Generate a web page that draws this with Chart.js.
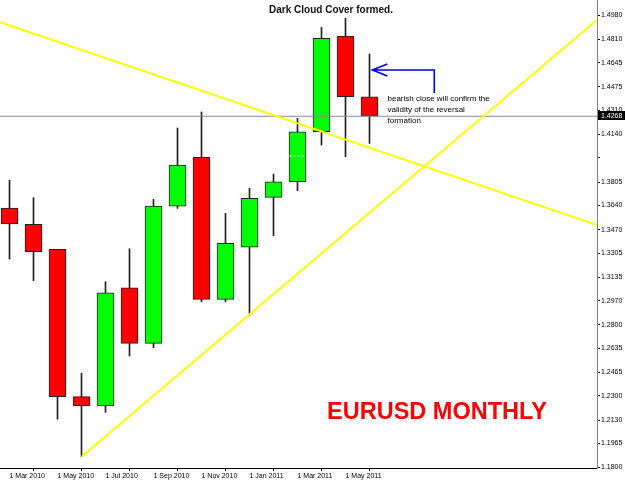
<!DOCTYPE html>
<html>
<head>
<meta charset="utf-8">
<script src="https://cdn.jsdelivr.net/npm/chart.js@4.4.0/dist/chart.umd.min.js"></script>
<style>
    html, body { margin: 0; padding: 0; background: #ffffff; }
    #wrap { width: 625px; height: 483px; }
</style>
</head>
<body>
<div id="wrap"><canvas id="eurusdChart" width="625" height="483"></canvas></div>
<script>
// EURUSD monthly candles, Mar 2010 - Jun 2011
const months = ['Mar 2010', 'Apr 2010', 'May 2010', 'Jun 2010', 'Jul 2010', 'Aug 2010', 'Sep 2010', 'Oct 2010',
                'Nov 2010', 'Dec 2010', 'Jan 2011', 'Feb 2011', 'Mar 2011', 'Apr 2011', 'May 2011', 'Jun 2011'];
const openPrices  = [1.3622, 1.3507, 1.3332, 1.2295, 1.2229, 1.3061, 1.2670, 1.3636, 1.3981, 1.2980, 1.3346, 1.3697, 1.3807, 1.4159, 1.4832, 1.4405];
const highPrices  = [1.3819, 1.3695, 1.3332, 1.2461, 1.3104, 1.3336, 1.3683, 1.4185, 1.4298, 1.3585, 1.3761, 1.3861, 1.4253, 1.4893, 1.4957, 1.4706];
const lowPrices   = [1.3263, 1.3111, 1.2136, 1.1872, 1.2185, 1.2581, 1.2639, 1.3620, 1.2963, 1.2963, 1.2869, 1.3427, 1.3744, 1.4065, 1.3983, 1.4077];
const closePrices = [1.3510, 1.3315, 1.2295, 1.2229, 1.3026, 1.2670, 1.3636, 1.3925, 1.2980, 1.3374, 1.3690, 1.3807, 1.4159, 1.4816, 1.4405, 1.4268];

const currentPrice = 1.4268;

// tick labels
const xTickLabels = ['1 Mar 2010', '1 May 2010', '1 Jul 2010', '1 Sep 2010', '1 Nov 2010', '1 Jan 2011', '1 Mar 2011', '1 May 2011'];
const yTickValues = [1.1800, 1.1965, 1.2130, 1.2300, 1.2465, 1.2635, 1.2800, 1.2970, 1.3135, 1.3305,
                     1.3470, 1.3640, 1.3805, 1.3975, 1.4140, 1.4310, 1.4475, 1.4645, 1.4810, 1.4980];
const yTickLabels = ['1.1800', '1.1965', '1.2130', '1.2300', '1.2465', '1.2635', '1.2800', '1.2970', '1.3135', '1.3305',
                     '1.3470', '1.3640', '1.3805', '', '1.4140', '1.4310', '1.4475', '1.4645', '1.4810', '1.4980'];

// trend lines (x = month index)
const resistanceLine = [{ x: -0.396, y: 1.4929 }, { x: 24.48, y: 1.3503 }];
const supportLine = [{ x: 3, y: 1.1872 }, { x: 24.48, y: 1.4945 }];
// short white dashed mark inside the Mar 2011 body
const dashMark = [{ x: 11.67, y: 1.3988 }, { x: 12.33, y: 1.3988 }];

const xMin = -0.396;
const xMax = 24.48;

const tickFont = { family: 'Liberation Sans', size: 7 };

const overlayPlugin = {
    id: 'overlay',
    afterDraw(chart) {
        const { ctx, chartArea } = chart;
        const x = chart.scales.x;
        const y = chart.scales.y;
        ctx.save();

        // current price box on the axis
        const py = Math.round(y.getPixelForValue(currentPrice));
        ctx.fillStyle = '#000000';
        ctx.fillRect(chartArea.right + 1, py - 5, 30, 9);
        ctx.fillStyle = '#ffffff';
        ctx.font = '7px "Liberation Sans"';
        ctx.textBaseline = 'middle';
        ctx.textAlign = 'left';
        ctx.fillText(currentPrice.toFixed(4), chartArea.right + 4, py);

        // title
        ctx.fillStyle = '#111111';
        ctx.font = 'bold 10px "Liberation Sans"';
        ctx.textAlign = 'center';
        ctx.fillText('Dark Cloud Cover formed.', 331, 10);

        // blue arrow pointing at the last candles
        const tipX = x.getPixelForValue(15.12);
        const endX = x.getPixelForValue(17.7);
        const ay = y.getPixelForValue(1.4593);
        const ay2 = y.getPixelForValue(1.4431);
        ctx.strokeStyle = '#0000ff';
        ctx.lineWidth = 1.6;
        ctx.beginPath();
        ctx.moveTo(endX, ay2);
        ctx.lineTo(endX, ay);
        ctx.lineTo(tipX, ay);
        ctx.moveTo(tipX + 15, ay - 6);
        ctx.lineTo(tipX, ay);
        ctx.lineTo(tipX + 15, ay + 6);
        ctx.stroke();

        // note
        ctx.fillStyle = '#000000';
        ctx.font = '8px "Liberation Sans"';
        ctx.textAlign = 'left';
        const nx = x.getPixelForValue(15.75);
        ctx.fillText('bearish close will confirm the', nx, 99);
        ctx.fillText('validity of the reversal', nx, 110);
        ctx.fillText('formation', nx, 121);

        // big label
        ctx.fillStyle = '#ff0000';
        ctx.font = 'bold 23.5px "Liberation Sans"';
        ctx.textAlign = 'center';
        ctx.fillText('EURUSD MONTHLY', 437, 413);
        ctx.restore();
    }
};

const ctx = document.getElementById('eurusdChart').getContext('2d');
new Chart(ctx, {
    type: 'bar',
    data: {
        datasets: [
            {
                type: 'line',
                data: resistanceLine,
                borderColor: '#ffff00',
                borderWidth: 2,
                pointRadius: 0,
                order: 0,
            },
            {
                type: 'line',
                data: supportLine,
                borderColor: '#ffff00',
                borderWidth: 2,
                pointRadius: 0,
                order: 0,
            },
            {
                type: 'line',
                data: dashMark,
                borderColor: '#ffffff',
                borderWidth: 1,
                borderDash: [2, 2],
                pointRadius: 0,
                order: 1,
            },
            {
                type: 'line',
                data: [{ x: xMin, y: currentPrice }, { x: xMax, y: currentPrice }],
                borderColor: '#7d8b98',
                borderWidth: 1,
                pointRadius: 0,
                order: 2,
            },
            {
                // candle bodies
                data: months.map((m, i) => ({ x: i, y: [openPrices[i], closePrices[i]] })),
                backgroundColor: months.map((m, i) => closePrices[i] >= openPrices[i] ? '#00ff00' : '#ff0000'),
                borderColor: '#222222',
                borderWidth: 1,
                borderSkipped: false,
                barThickness: 17,
                grouped: false,
                order: 3,
            },
            {
                // wicks
                data: months.map((m, i) => ({ x: i, y: [lowPrices[i], highPrices[i]] })),
                backgroundColor: '#222222',
                barThickness: 1,
                grouped: false,
                order: 4,
            },
        ],
    },
    options: {
        responsive: false,
        animation: false,
        layout: { padding: 0 },
        plugins: {
            legend: { display: false },
            tooltip: { enabled: false },
        },
        scales: {
            x: {
                type: 'linear',
                min: xMin,
                max: xMax,
                offset: false,
                grid: { display: true, drawOnChartArea: false, drawTicks: true, tickLength: 3, color: '#000000' },
                border: { display: true, color: '#000000' },
                afterBuildTicks: (scale) => {
                    scale.ticks = xTickLabels.map((l, k) => ({ value: k * 2 }));
                },
                ticks: {
                    align: 'start',
                    padding: 1,
                    autoSkip: false,
                    maxRotation: 0,
                    color: '#000000',
                    font: tickFont,
                    callback: (v, i) => xTickLabels[i],
                },
                afterFit: (scale) => {
                    scale.height = 15;
                    scale.paddingLeft = 0;
                    scale.paddingRight = 0;
                },
            },
            y: {
                position: 'right',
                min: 1.1793,
                max: 1.5086,
                grid: { display: true, drawOnChartArea: false, drawTicks: true, tickLength: 3, color: '#000000' },
                border: { display: true, color: '#808080' },
                afterBuildTicks: (scale) => {
                    scale.ticks = yTickValues.map((v) => ({ value: v }));
                },
                ticks: {
                    padding: 1,
                    autoSkip: false,
                    color: '#000000',
                    font: tickFont,
                    callback: (v, i) => yTickLabels[i],
                },
                afterFit: (scale) => {
                    scale.width = 28;
                    scale.paddingTop = 0;
                    scale.paddingBottom = 0;
                },
            },
        },
    },
    plugins: [overlayPlugin],
});
</script>
</body>
</html>
